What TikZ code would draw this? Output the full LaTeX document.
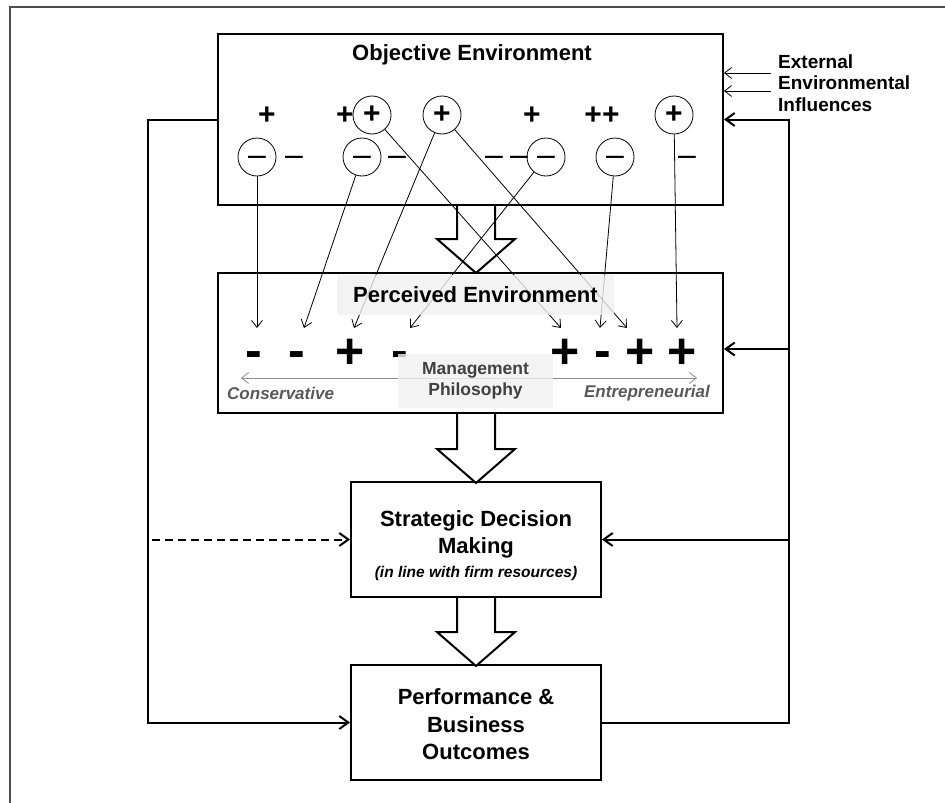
\documentclass[tikz,border=0pt]{standalone}
\usepackage{fontspec}
\setmainfont{Liberation Sans}
\usetikzlibrary{arrows.meta, positioning}
\definecolor{mainBlack}{gray}{0.0}
\definecolor{frameGray}{gray}{0.3}
\definecolor{labelGray}{gray}{0.35}
\definecolor{philGray}{gray}{0.25}
\definecolor{axisGray}{gray}{0.55}
\definecolor{shadeGray}{gray}{0.94}
\newcommand{\midsign}[1]{\raisebox{-0.275em}[0pt][0pt]{#1}}

\begin{document}
\begin{tikzpicture}[x=1pt, y=-1pt,
    envbox/.style={draw, line width=2pt, minimum width=505pt, inner sep=0pt},
    stagebox/.style={draw, line width=2pt, minimum width=250pt, minimum height=115pt, align=center, font=\bfseries\fontsize{22}{27.5}\selectfont},
    envtitle/.style={font=\bfseries\fontsize{22}{26}\selectfont, inner sep=0pt},
    sgncircle/.style={draw, circle, minimum size=38pt, inner sep=0pt, line width=0.8pt},
    pluscircle/.style={sgncircle, font=\bfseries\fontsize{30}{30}\selectfont},
    minuscircle/.style={sgncircle, font=\fontsize{32}{32}\selectfont},
    smallsign/.style={font=\bfseries\fontsize{30}{30}\selectfont, inner sep=0pt},
    thinsign/.style={font=\fontsize{32}{32}\selectfont, inner sep=0pt},
    bigsign/.style={font=\bfseries\fontsize{50}{50}\selectfont, inner sep=0pt},
    shadebox/.style={fill=shadeGray, fill opacity=0.8, text opacity=1, inner sep=0pt},
    scalelabel/.style={text=labelGray, font=\bfseries\itshape\fontsize{17}{20}\selectfont, inner sep=0pt},
    link/.style={-{Straight Barb[length=7pt,width=11pt]}, line width=0.8pt},
    feedback/.style={-{Straight Barb[length=9pt,width=13pt]}, line width=2pt},
    blockarrow/.style={draw, line width=2pt, fill=white, line join=miter}]
    \useasboundingbox (0,0) rectangle (945,803);
    \draw[frameGray, line width=2pt] (946,6.5) -- (10,6.5) -- (10,804);

    % Boxes
    \node[envbox, minimum height=171pt] (objective) at (470.5,119.5) {};
    \node[envtitle] (objtitle) at (472,55) {Objective Environment};
    \node[envbox, minimum height=140pt] (perceived) at (470.5,343) {};
    \node[stagebox] (strategic) at (476,539.5) {\rule{0pt}{28pt}Strategic Decision\\Making\\[-4pt]{\fontsize{15.5}{18}\selectfont\itshape (in line with firm resources)}};
    \node[stagebox] (performance) at (476,722.5) {\rule{0pt}{20pt}Performance \&\\Business\\Outcomes};

    % Block arrows
    \draw[blockarrow] (strategic.north |- objective.south) ++(-19,0) -- ++(0,33) -- ++(-20,0) -- ++(39,34) -- ++(39,-34) -- ++(-20,0) -- ++(0,-33);
    \draw[blockarrow] (strategic.north |- perceived.south) ++(-19,0) -- ++(0,35) -- ++(-20,0) -- ++(39,34) -- ++(39,-34) -- ++(-20,0) -- ++(0,-35);
    \draw[blockarrow] (strategic.south) ++(-19,0) -- ++(0,34) -- ++(-20,0) -- ++(39,34) -- ++(39,-34) -- ++(-20,0) -- ++(0,-34);

    % Objective signs
    \node[smallsign] (pa) at (267,116) {+};
    \node[smallsign] (pb) at (345,116) {+};
    \node[pluscircle] (ca) at (372,115) {+};
    \node[pluscircle] (cb) at (442,115) {+};
    \node[smallsign] (pc) at (532,116) {+};
    \node[smallsign] (pd) at (602,116) {++};
    \node[pluscircle] (cc) at (674,115) {+};

    \node[minuscircle] (ma) at (257,157) {\midsign{–}};
    \node[thinsign] (da) at (294,157) {\midsign{–}};
    \node[minuscircle] (mb) at (362,157) {\midsign{–}};
    \node[thinsign] (db) at (397,157) {\midsign{–}};
    \node[thinsign] (dc) at (494,157) {\midsign{–}};
    \node[thinsign] (dd) at (519,157) {\midsign{–}};
    \node[minuscircle] (mc) at (546,157) {\midsign{–}};
    \node[minuscircle] (md) at (615,157) {\midsign{–}};
    \node[thinsign] (de) at (687,157) {\midsign{–}};

    % Perceived signs
    \node[bigsign] (sa) at (254,354) {\midsign{-}};
    \node[bigsign] (sb) at (297,354) {\midsign{-}};
    \node[bigsign] (sc) at (350,354) {+};
    \node[bigsign] (sd) at (400,354) {\midsign{-}};
    \node[bigsign] (se) at (565,354) {+};
    \node[bigsign] (sf) at (603,354) {\midsign{-}};
    \node[bigsign] (sg) at (640,354) {+};
    \node[bigsign] (sh) at (682,354) {+};

    \coordinate (ta) at (257,328);
    \coordinate (tb) at (304,328);
    \coordinate (tc) at (354,328);
    \coordinate (td) at (410,328);
    \coordinate (te) at (561,328);
    \coordinate (tf) at (600,328);
    \coordinate (tg) at (627,328);
    \coordinate (th) at (677,328);

    % Links
    \draw[link] (ma) -- (ta);
    \draw[link] (mb) -- (tb);
    \draw[link] (cb) -- (tc);
    \draw[link] (mc) -- (td);
    \draw[link] (ca) -- (te);
    \draw[link] (md) -- (tf);
    \draw[link] (cb) -- (tg);
    \draw[link] (cc) -- (th);

    % Management philosophy scale
    \coordinate (consv) at (241,378);
    \coordinate (entre) at (697,378);
    \draw[axisGray, line width=0.8pt, {Straight Barb[length=7pt,width=11pt]}-{Straight Barb[length=7pt,width=11pt]}] (consv) -- (entre);
    \node[shadebox, minimum width=277pt, minimum height=40pt, envtitle] (pertitle) at (475.5,295) {Perceived Environment};
    \node[shadebox, minimum width=155pt, minimum height=54pt, align=center, text=philGray, font=\bfseries\fontsize{17.5}{21}\selectfont] (philosophy) at (475.5,381) {Management\\Philosophy};
    \node[scalelabel, anchor=west] (conservative) at (227,393) {Conservative};
    \node[scalelabel, anchor=east] (entrepreneurial) at (710,393) {Entrepreneurial};

    % External influences
    \node[anchor=west, align=left, inner sep=0pt, font=\bfseries\fontsize{19}{21.5}\selectfont] (external) at (778,83) {External\\Environmental\\Influences};
    \coordinate (exta) at (771,73);
    \coordinate (extb) at (771,91);
    \draw[link] (exta) -- (objective.east |- exta);
    \draw[link] (extb) -- (objective.east |- extb);

    % Feedback
    \coordinate (rbus) at (789,119.5);
    \coordinate (lbus) at (148,119.5);
    \coordinate (dstart) at (152,539.5);
    \draw[feedback] (performance.east) -| (rbus) -- (objective.east);
    \draw[feedback] (rbus |- 0,349) -- (perceived.east |- 0,349);
    \draw[feedback] (rbus |- strategic.east) -- (strategic.east);
    \draw[feedback] (objective.west) -- (lbus) |- (performance.west);
    \draw[feedback, dash pattern=on 8pt off 5pt] (dstart) -- (strategic.west);
\end{tikzpicture}
\end{document}
